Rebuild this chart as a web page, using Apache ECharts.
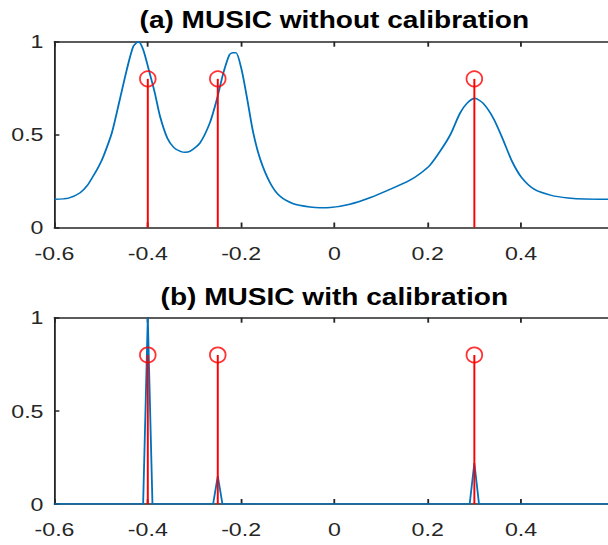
<!DOCTYPE html>
<html>
<head>
<meta charset="utf-8">
<script src="https://cdn.jsdelivr.net/npm/echarts@6/dist/echarts.min.js"></script>
<style>
  html, body { margin: 0; padding: 0; width: 608px; height: 545px; overflow: hidden; background: #ffffff; }
  /* the figure is laid out on a narrower canvas and widened horizontally */
  #chart { width: 510px; height: 545px; transform: scaleX(1.22); transform-origin: 0 0; }
</style>
</head>
<body>
<div id="chart"></div>
<script>
// MUSIC pseudo-spectrum, normalised, before array calibration: [angle, power]
const uncalibrated = [
  [-0.6, 0.152], [-0.57, 0.158], [-0.545, 0.187], [-0.53, 0.225], [-0.517, 0.277],
  [-0.505, 0.33], [-0.495, 0.384], [-0.477, 0.51], [-0.46, 0.689], [-0.445, 0.85],
  [-0.431, 0.976], [-0.42, 1.0], [-0.41, 0.958], [-0.399, 0.859], [-0.385, 0.725],
  [-0.374, 0.6], [-0.358, 0.48], [-0.344, 0.43], [-0.33, 0.41], [-0.32, 0.405],
  [-0.31, 0.41], [-0.288, 0.456], [-0.267, 0.563], [-0.252, 0.689], [-0.238, 0.832],
  [-0.225, 0.93], [-0.218, 0.94], [-0.211, 0.94], [-0.199, 0.85], [-0.188, 0.707],
  [-0.174, 0.51], [-0.159, 0.367], [-0.138, 0.241], [-0.117, 0.169], [-0.088, 0.128],
  [-0.052, 0.11], [-0.03, 0.106], [-0.009, 0.107], [0.033, 0.125], [0.076, 0.16],
  [0.119, 0.205], [0.162, 0.255], [0.184, 0.291], [0.205, 0.336], [0.226, 0.408],
  [0.248, 0.497], [0.269, 0.614], [0.284, 0.668], [0.301, 0.695], [0.319, 0.668],
  [0.341, 0.587], [0.362, 0.47], [0.38, 0.36], [0.401, 0.27], [0.429, 0.205],
  [0.465, 0.173], [0.501, 0.159], [0.537, 0.153], [0.6, 0.152]
];

// MUSIC pseudo-spectrum after calibration: [angle, power]
const calibrated = [
  [-0.6, 0], [-0.41, 0], [-0.4, 1.0], [-0.39, 0],
  [-0.26, 0], [-0.25, 0.15], [-0.24, 0],
  [0.29, 0], [0.3, 0.22], [0.31, 0], [0.6, 0]
];

// true source directions and the stem height used to mark them
const trueAngles = [-0.4, -0.25, 0.3];
const trueLevels = [0.8, 0.8, 0.8];

const xTickLabels = ['-0.6', '-0.4', '-0.2', '0', '0.2', '0.4', '0.6'];
const yTickLabels = ['0', '0.5', '1'];
const panelTitles = ['(a) MUSIC without calibration', '(b) MUSIC with calibration'];

const SX = 1.22;                 // horizontal widening applied by CSS
const AXIS = '#262626';
const BLUE = '#0072BD';
const RED = '#FF0000';
const FONT = '"Liberation Sans", Arial, Helvetica, sans-serif';

const plotLeft = 54.5 / SX;
const plotWidth = (614.3 - 54.5) / SX;
const panels = [
  { top: 41.7, height: 185.8, titleY: 20 },
  { top: 317.7, height: 186.3, titleY: 297 }
];

const truePoints = trueAngles.map((a, i) => [a, trueLevels[i]]);

const grid = [], xAxis = [], yAxis = [], series = [], graphic = [];

panels.forEach((p, i) => {
  grid.push({
    left: plotLeft, top: p.top, width: plotWidth, height: p.height,
    containLabel: false, outerBoundsMode: 'none'
  });

  // bottom axis with labels
  xAxis.push({
    type: 'value', gridIndex: i, position: 'bottom', min: -0.6, max: 0.6, interval: 0.2,
    axisLine: { show: true, onZero: false, lineStyle: { color: AXIS, width: 1.5 } },
    axisTick: { show: true, inside: true, length: 5, lineStyle: { color: AXIS, width: 1.5 } },
    axisLabel: {
      show: true, margin: 16, color: AXIS, fontSize: 19, fontFamily: FONT,
      showMaxLabel: false, hideOverlap: false,
      formatter: v => xTickLabels[Math.round((v + 0.6) / 0.2)]
    },
    splitLine: { show: false }
  });
  // top edge of the box with mirrored ticks
  xAxis.push({
    type: 'value', gridIndex: i, position: 'top', min: -0.6, max: 0.6, interval: 0.2,
    axisLine: { show: true, onZero: false, lineStyle: { color: AXIS, width: 1.5 } },
    axisTick: { show: true, inside: true, length: 5, lineStyle: { color: AXIS, width: 1.5 } },
    axisLabel: { show: false },
    splitLine: { show: false }
  });
  yAxis.push({
    type: 'value', gridIndex: i, position: 'left', min: 0, max: 1, interval: 0.5,
    axisLine: { show: true, onZero: false, lineStyle: { color: AXIS, width: 1.5 } },
    axisTick: { show: true, inside: true, length: 4, lineStyle: { color: AXIS, width: 1.5 } },
    axisLabel: {
      show: true, margin: 9, color: AXIS, fontSize: 19, fontFamily: FONT,
      formatter: v => yTickLabels[Math.round(v / 0.5)]
    },
    splitLine: { show: false }
  });

  series.push({
    type: 'line', xAxisIndex: i * 2, yAxisIndex: i,
    data: i === 0 ? uncalibrated : calibrated,
    smooth: i === 0 ? 0.25 : false,
    showSymbol: false, clip: true, z: 2,
    lineStyle: { color: BLUE, width: 1.5 }
  });
  // stems marking the true directions
  series.push({
    type: 'custom', xAxisIndex: i * 2, yAxisIndex: i, data: truePoints, z: 3,
    renderItem: (params, api) => {
      const p0 = api.coord([api.value(0), 0]);
      const p1 = api.coord([api.value(0), api.value(1)]);
      return {
        type: 'line',
        shape: { x1: p0[0], y1: p0[1], x2: p1[0], y2: p1[1] },
        style: { stroke: RED, lineWidth: 1.6 }
      };
    }
  });
  series.push({
    type: 'scatter', xAxisIndex: i * 2, yAxisIndex: i, data: truePoints, z: 4,
    symbol: 'circle', symbolSize: [15.7 / SX, 15.2],
    itemStyle: { color: 'rgba(0,0,0,0)', borderColor: RED, borderWidth: 1.6 }
  });

  graphic.push({
    type: 'text', x: 334.3 / SX, y: p.titleY, silent: true,
    style: {
      text: panelTitles[i], fill: '#000000',
      font: 'bold 23px ' + FONT, textAlign: 'center', textVerticalAlign: 'middle'
    }
  });
});

const chart = echarts.init(document.getElementById('chart'), null, { renderer: 'svg' });
chart.setOption({
  animation: false,
  backgroundColor: '#ffffff',
  grid, xAxis, yAxis, series, graphic
});
</script>
</body>
</html>
